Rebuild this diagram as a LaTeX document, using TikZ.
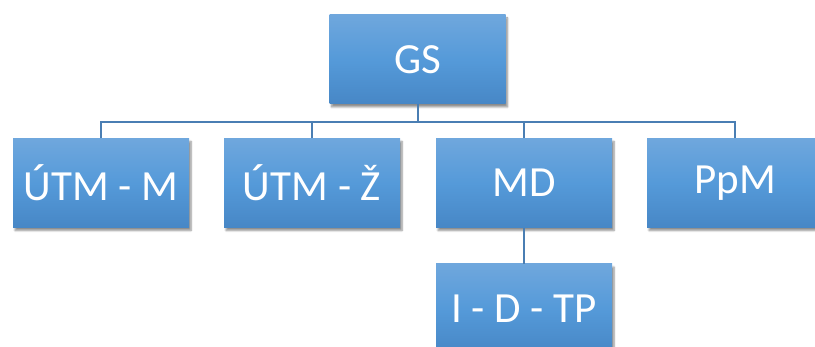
\documentclass[tikz,border=0pt]{standalone}
\usepackage{fontspec}
\setmainfont{Carlito}
\usetikzlibrary{shadows.blur}
\definecolor{linec}{HTML}{4A7EB3}
\definecolor{boxtop}{HTML}{6FA7DD}
\definecolor{boxmid}{HTML}{559AD9}
\definecolor{boxbot}{HTML}{4787C6}
\tikzset{
  orgbox/.style={rectangle, minimum width=176pt, minimum height=89pt, inner sep=0pt,
    top color=boxtop, bottom color=boxbot, middle color=boxmid,
    text=white, font=\fontsize{43}{50}\selectfont,
    blur shadow={shadow xshift=2pt, shadow yshift=-3pt, shadow blur steps=6, shadow opacity=45}},
  conn/.style={draw=linec, line width=2pt}
}
\begin{document}
\begin{tikzpicture}[x=1pt,y=-1pt]
\useasboundingbox (0,0) rectangle (815,347);
\begin{scope}
\clip (0,0) rectangle (815,347);
\node[orgbox, minimum width=176pt] (gs) at (417.5,59.5) {GS};
\node[orgbox] (m) at (101,183) {ÚTM - M};
\node[orgbox] (z) at (312,183) {ÚTM - Ž};
\node[orgbox] (md) at (524,183) {MD};
\node[orgbox] (ppm) at (735,183) {PpM};
\node[orgbox] (idtp) at (524,308.5) {I - D - TP};
\coordinate (bus) at (417.5,122);
\draw[conn] (gs.south) -- (bus);
\draw[conn] (m.north) |- (bus);
\draw[conn] (z.north) |- (bus);
\draw[conn] (md.north) |- (bus);
\draw[conn] (ppm.north) |- (bus);
\draw[conn] (md.south) -- (idtp.north);
\end{scope}
\end{tikzpicture}
\end{document}
